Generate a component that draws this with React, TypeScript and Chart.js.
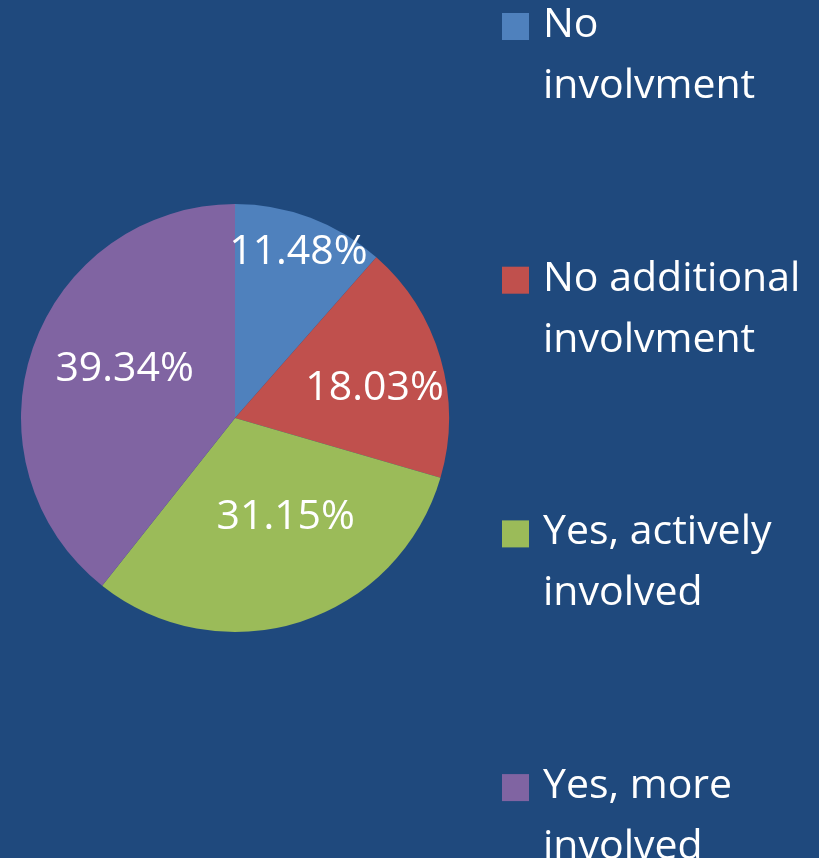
import React, { useEffect, useRef } from "react";
import { Chart, registerables } from "chart.js";

Chart.register(...registerables);

// ---- data ----
const categories: string[][] = [
  ["No", "involvment"],
  ["No additional", "involvment"],
  ["Yes, actively", "involved"],
  ["Yes, more", "involved"],
];
const shares: number[] = [11.48, 18.03, 31.15, 39.34];
const valueLabels: string[] = ["11.48%", "18.03%", "31.15%", "39.34%"];
const sliceColors: string[] = ["#4F81BD", "#C0504D", "#9BBB59", "#8064A2"];

// ---- style ----
const BG = "#1F497D";
const FONT = '"Open Sans", sans-serif';
const FONT_SIZE = 41;
// data-label placement: fraction of radius, angle offset (deg) from slice middle
const labelPlacement = [
  { r: 0.84, da: 0 },
  { r: 0.67, da: 3 },
  { r: 0.51, da: -10 },
  { r: 0.57, da: 6 },
];
const legendLayout = { boxX: 502, box: 27, textX: 543, firstBaseline: 37, itemStep: 253.7, lineStep: 61 };

const dataLabelPlugin = {
  id: "dataLabels",
  afterDatasetsDraw(chart: any) {
    const ctx = chart.ctx;
    const meta = chart.getDatasetMeta(0);
    ctx.save();
    ctx.fillStyle = "#FFFFFF";
    ctx.font = `${FONT_SIZE}px ${FONT}`;
    ctx.textAlign = "center";
    ctx.textBaseline = "alphabetic";
    meta.data.forEach((arc: any, i: number) => {
      const p = arc.getProps(["x", "y", "startAngle", "endAngle", "outerRadius"], true);
      const pl = labelPlacement[i];
      const mid = (p.startAngle + p.endAngle) / 2 + (pl.da * Math.PI) / 180;
      const cx = p.x + Math.cos(mid) * pl.r * p.outerRadius;
      const cy = p.y + Math.sin(mid) * pl.r * p.outerRadius;
      ctx.fillText(valueLabels[i], cx, cy + FONT_SIZE * 0.357);
    });
    ctx.restore();
  },
};

const legendPlugin = {
  id: "sideLegend",
  afterDraw(chart: any) {
    const ctx = chart.ctx;
    const L = legendLayout;
    ctx.save();
    ctx.font = `${FONT_SIZE}px ${FONT}`;
    ctx.textAlign = "left";
    ctx.textBaseline = "alphabetic";
    (chart.data.labels as string[][]).forEach((lines, i) => {
      const base = L.firstBaseline + i * L.itemStep;
      ctx.fillStyle = sliceColors[i];
      ctx.fillRect(L.boxX, base - 24, L.box, L.box);
      ctx.fillStyle = "#FFFFFF";
      lines.forEach((t, j) => ctx.fillText(t, L.textX, base + j * L.lineStep));
    });
    ctx.restore();
  },
};

const bgPlugin = {
  id: "bg",
  beforeDraw(chart: any) {
    const ctx = chart.ctx;
    ctx.save();
    ctx.fillStyle = BG;
    ctx.fillRect(0, 0, chart.width, chart.height);
    ctx.restore();
  },
};

export default function App() {
  const ref = useRef<HTMLCanvasElement | null>(null);
  useEffect(() => {
    document.body.style.margin = "0";
    document.body.style.background = BG;
    if (!ref.current) return;
    const chart = new Chart(ref.current, {
      type: "pie",
      data: {
        labels: categories as any,
        datasets: [
          {
            data: shares,
            backgroundColor: sliceColors,
            borderWidth: 0,
          },
        ],
      },
      options: {
        responsive: false,
        animation: false,
        layout: { padding: { left: 21, top: 204, right: 370, bottom: 226 } },
        plugins: {
          legend: { display: false },
          tooltip: { enabled: false },
        },
      },
      plugins: [bgPlugin, dataLabelPlugin, legendPlugin],
    });
    return () => chart.destroy();
  }, []);
  return (
    <div style={{ position: "fixed", left: 0, top: 0, width: 819, height: 858, background: BG }}>
      <canvas ref={ref} width={819} height={858} style={{ width: 819, height: 858, display: "block" }} />
    </div>
  );
}
